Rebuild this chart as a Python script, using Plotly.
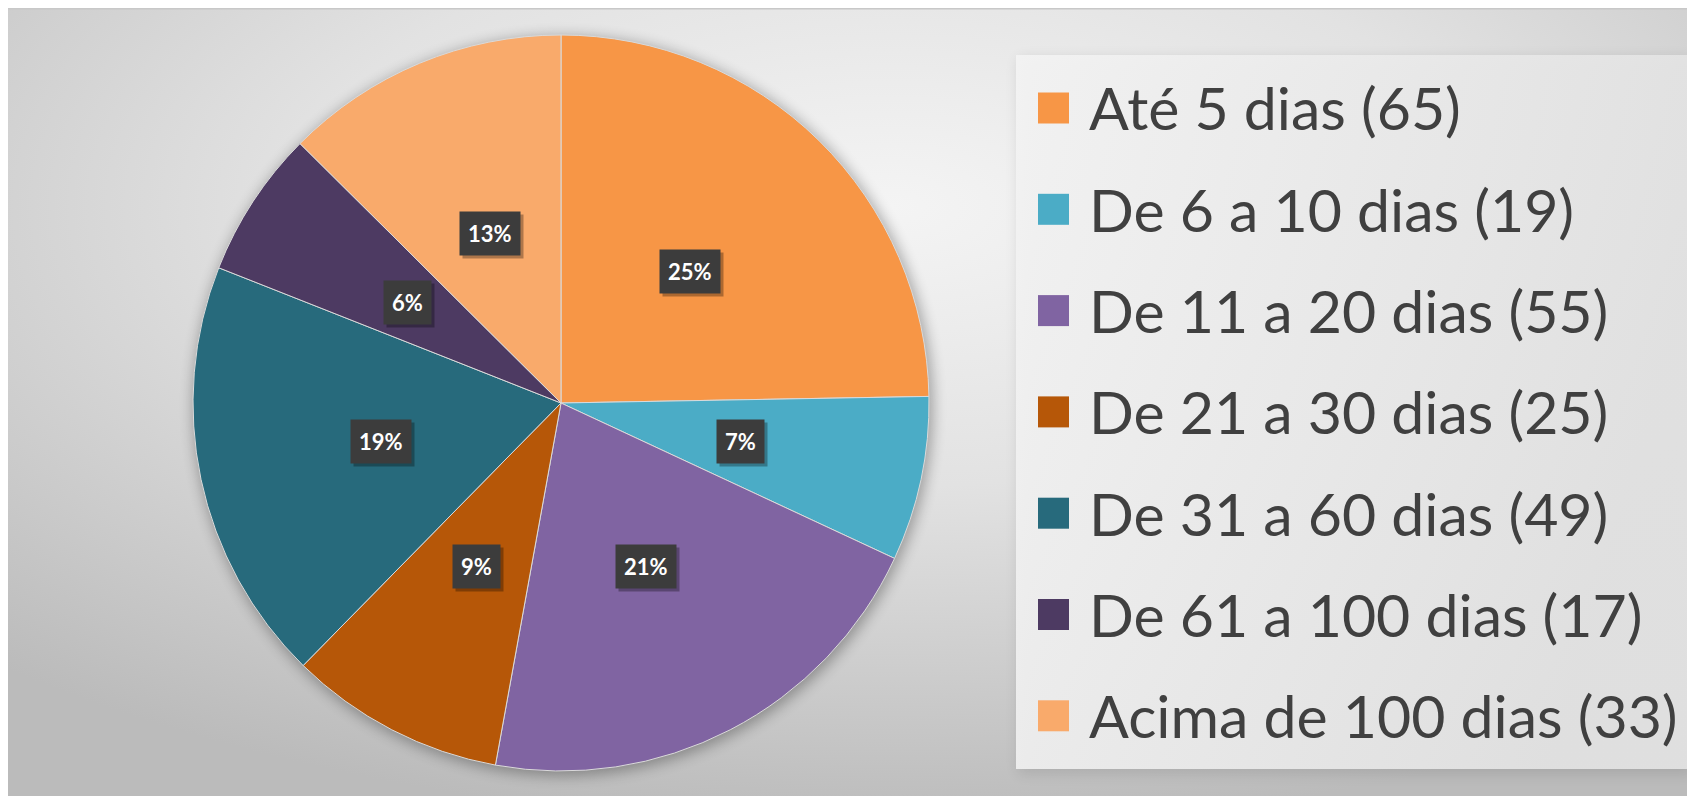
import base64
import math
import plotly.graph_objects as go

# ---- data ----
categories = ["Até 5 dias", "De 6 a 10 dias", "De 11 a 20 dias", "De 21 a 30 dias",
              "De 31 a 60 dias", "De 61 a 100 dias", "Acima de 100 dias"]
counts = [65, 19, 55, 25, 49, 17, 33]
pct_labels = ["25%", "7%", "21%", "9%", "19%", "6%", "13%"]
colors = ["#F79646", "#4BACC6", "#8064A2", "#B65708", "#276A7C", "#4D3A62", "#F9AA6B"]

W, H = 1695, 796
FONT = "Lato"

# pie geometry (paper domain)
PCX, PCY, PR = 553, 395, 368          # pie centre / radius in page pixels (from top-left)
dom_x = [(PCX - PR) / W, (PCX + PR) / W]
dom_y = [(H - PCY - PR) / H, (H - PCY + PR) / H]

# background gradient, legend panel and pie shadow as an SVG image
svg = f"""<svg xmlns='http://www.w3.org/2000/svg' width='{W}' height='{H}'>
<defs>
<radialGradient id='g' cx='0.52' cy='0.25' r='0.78' gradientUnits='objectBoundingBox'>
<stop offset='0' stop-color='#F4F4F4'/>
<stop offset='0.45' stop-color='#E2E2E2'/>
<stop offset='1' stop-color='#BBBBBB'/>
</radialGradient>
<linearGradient id='lg' x1='0' y1='0' x2='1' y2='0.3'>
<stop offset='0' stop-color='#F3F3F3'/>
<stop offset='1' stop-color='#E2E2E2'/>
</linearGradient>
<filter id='blur'><feGaussianBlur stdDeviation='7'/></filter>
</defs>
<rect x='0' y='0' width='{W}' height='{H}' fill='url(#g)'/>
<line x1='0' y1='0.5' x2='{W}' y2='0.5' stroke='#C8C8C8' stroke-width='2'/>
<circle cx='{PCX + 2}' cy='{PCY + 3}' r='{PR + 2}' fill='#000' opacity='0.30' filter='url(#blur)'/>
<rect x='1010' y='50' width='674' height='716' fill='#000' opacity='0.10' filter='url(#blur)'/>
<rect x='1008' y='47' width='674' height='714' fill='url(#lg)' opacity='0.95'/>
</svg>"""
bg_src = "data:image/svg+xml;base64," + base64.b64encode(svg.encode()).decode()

fig = go.Figure()
fig.add_trace(go.Pie(
    labels=categories,
    values=counts,
    sort=False,
    direction="clockwise",
    rotation=0,
    marker=dict(colors=colors, line=dict(color="#DADADA", width=1)),
    textinfo="none",
    hoverinfo="label+value+percent",
    showlegend=False,
    domain=dict(x=dom_x, y=dom_y),
))

# percentage label boxes placed at half radius of each slice's mid angle
total = sum(counts)
cx = (dom_x[0] + dom_x[1]) / 2
cy = (dom_y[0] + dom_y[1]) / 2
r_px = min((dom_x[1] - dom_x[0]) * W, (dom_y[1] - dom_y[0]) * H) / 2
annotations = []
cum = 0
for v, lab in zip(counts, pct_labels):
    theta = (cum + v / 2) / total * 2 * math.pi
    cum += v
    px = cx + 0.5 * r_px * math.sin(theta) / W
    py = cy + 0.5 * r_px * math.cos(theta) / H
    common = dict(x=px, y=py, xref="paper", yref="paper", xanchor="center",
                  yanchor="middle", showarrow=False, text=f"<b>{lab}</b>", borderpad=8)
    annotations.append(dict(common, xshift=3, yshift=-3,
                            font=dict(family=FONT, size=22, color="rgba(0,0,0,0)"),
                            bgcolor="rgba(0,0,0,0.30)"))
    annotations.append(dict(common,
                            font=dict(family=FONT, size=22, color="white"),
                            bgcolor="#3C3C3C"))

# legend (swatches + labels), one row per category
shapes = []
leg_top = 100
leg_step = 101.3
sw = 31
for i, (cat, v, c) in enumerate(zip(categories, counts, colors)):
    yc = leg_top + i * leg_step
    shapes.append(dict(type="rect", xref="paper", yref="paper",
                       x0=1030 / W, x1=(1030 + sw) / W,
                       y0=1 - (yc + sw / 2) / H, y1=1 - (yc - sw / 2) / H,
                       fillcolor=c, line=dict(width=0)))
    annotations.append(dict(x=1079 / W, y=1 - yc / H, xref="paper", yref="paper",
                            xanchor="left", yanchor="middle", showarrow=False,
                            text=f"{cat} ({v})",
                            font=dict(family=FONT, size=59, color="#404040")))

fig.update_layout(
    width=W, height=H,
    margin=dict(l=0, r=0, t=0, b=0),
    paper_bgcolor="white",
    plot_bgcolor="white",
    images=[dict(source=bg_src, xref="paper", yref="paper", x=0, y=1,
                 sizex=1, sizey=1, xanchor="left", yanchor="top",
                 sizing="stretch", layer="below")],
    shapes=shapes,
    annotations=annotations,
)
fig.write_html("out.html")
